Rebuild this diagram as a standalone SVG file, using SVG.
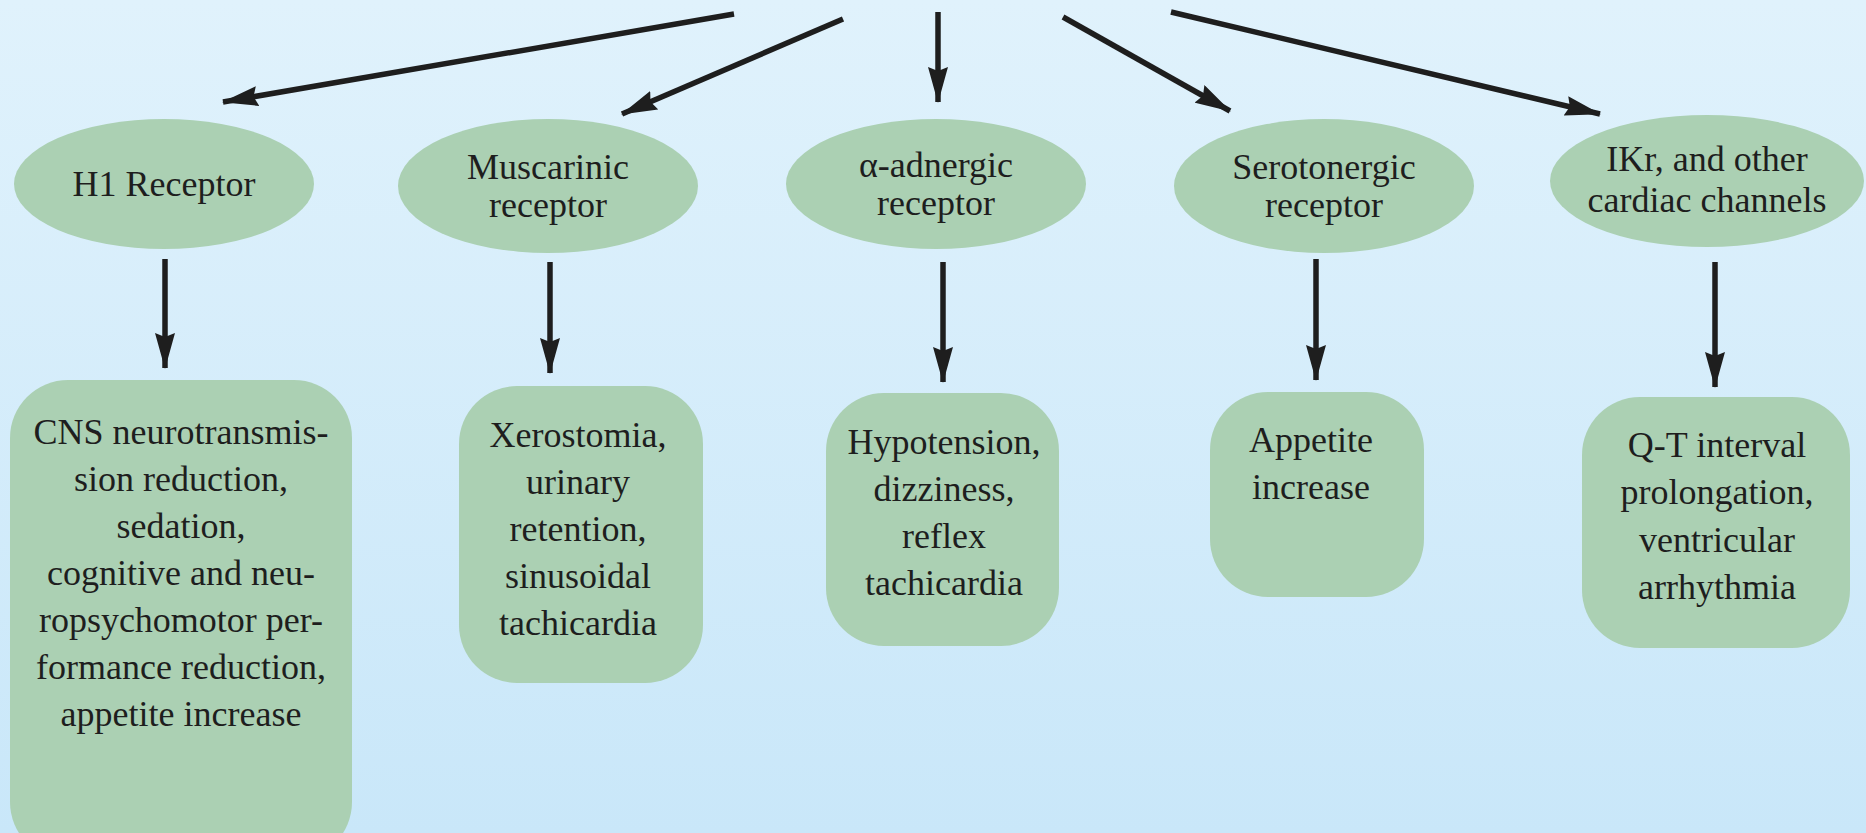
<svg xmlns="http://www.w3.org/2000/svg" width="1866" height="833" viewBox="0 0 1866 833">
<defs>
<linearGradient id="bg" x1="0" y1="0" x2="0" y2="1">
<stop offset="0" stop-color="#e0f2fc"/>
<stop offset="1" stop-color="#c9e7f9"/>
</linearGradient>
<marker id="ah" viewBox="0 0 36 20" refX="35" refY="10" markerWidth="36" markerHeight="20" markerUnits="userSpaceOnUse" orient="auto">
<path d="M0,0 L36,10 L0,20 L4,10 z" fill="#1e1e1e"/>
</marker>
</defs>
<style>
.node{fill:#abd0b3;stroke:none}
.t{font-family:"Liberation Serif","Times New Roman",serif;font-size:36px;fill:#1e1e1e;text-anchor:middle}
.c{stroke:#1e1e1e;stroke-width:5.5;fill:none;marker-end:url(#ah)}
</style>
<rect x="0" y="0" width="1866" height="833" fill="url(#bg)"/>
<g id="connectors">
<line class="c" x1="734" y1="14" x2="223" y2="102"/>
<line class="c" x1="843" y1="19" x2="622" y2="114"/>
<line class="c" x1="938" y1="12" x2="938" y2="102"/>
<line class="c" x1="1063" y1="17" x2="1230" y2="111"/>
<line class="c" x1="1171" y1="12" x2="1600" y2="114"/>
<line class="c" x1="165" y1="259" x2="165" y2="368"/>
<line class="c" x1="550" y1="262" x2="550" y2="373"/>
<line class="c" x1="943" y1="262" x2="943" y2="382"/>
<line class="c" x1="1316" y1="259" x2="1316" y2="380"/>
<line class="c" x1="1715" y1="262" x2="1715" y2="387"/>
</g>
<g id="h1">
<ellipse class="node" cx="164" cy="184" rx="150" ry="65"/>
<text class="t" x="164" y="196">H1 Receptor</text>
</g>
<g id="muscarinic">
<ellipse class="node" cx="548" cy="186" rx="150" ry="67"/>
<text class="t" x="548" y="179">Muscarinic</text>
<text class="t" x="548" y="217">receptor</text>
</g>
<g id="alpha">
<ellipse class="node" cx="936" cy="184" rx="150" ry="65"/>
<text class="t" x="936" y="177">α-adnergic</text>
<text class="t" x="936" y="215">receptor</text>
</g>
<g id="serotonergic">
<ellipse class="node" cx="1324" cy="186" rx="150" ry="67"/>
<text class="t" x="1324" y="179">Serotonergic</text>
<text class="t" x="1324" y="217">receptor</text>
</g>
<g id="ikr">
<ellipse class="node" cx="1707" cy="181" rx="157" ry="66"/>
<text class="t" x="1707" y="171">IKr, and other</text>
<text class="t" x="1707" y="212">cardiac channels</text>
</g>
<g id="cns">
<rect class="node" x="10" y="380" width="342" height="480" rx="58" ry="58"/>
<text class="t" x="181" y="444">CNS neurotransmis-</text>
<text class="t" x="181" y="491">sion reduction,</text>
<text class="t" x="181" y="538">sedation,</text>
<text class="t" x="181" y="585">cognitive and neu-</text>
<text class="t" x="181" y="632">ropsychomotor per-</text>
<text class="t" x="181" y="679">formance reduction,</text>
<text class="t" x="181" y="726">appetite increase</text>
</g>
<g id="xerostomia">
<rect class="node" x="459" y="386" width="244" height="297" rx="58" ry="58"/>
<text class="t" x="578" y="447">Xerostomia,</text>
<text class="t" x="578" y="494">urinary</text>
<text class="t" x="578" y="541">retention,</text>
<text class="t" x="578" y="588">sinusoidal</text>
<text class="t" x="578" y="635">tachicardia</text>
</g>
<g id="hypotension">
<rect class="node" x="826" y="393" width="233" height="253" rx="58" ry="58"/>
<text class="t" x="944" y="454">Hypotension,</text>
<text class="t" x="944" y="501">dizziness,</text>
<text class="t" x="944" y="548">reflex</text>
<text class="t" x="944" y="595">tachicardia</text>
</g>
<g id="appetite">
<rect class="node" x="1210" y="392" width="214" height="205" rx="58" ry="58"/>
<text class="t" x="1311" y="452">Appetite</text>
<text class="t" x="1311" y="499">increase</text>
</g>
<g id="qt">
<rect class="node" x="1582" y="397" width="268" height="251" rx="58" ry="58"/>
<text class="t" x="1717" y="457">Q-T interval</text>
<text class="t" x="1717" y="504">prolongation,</text>
<text class="t" x="1717" y="552">ventricular</text>
<text class="t" x="1717" y="599">arrhythmia</text>
</g>
</svg>
